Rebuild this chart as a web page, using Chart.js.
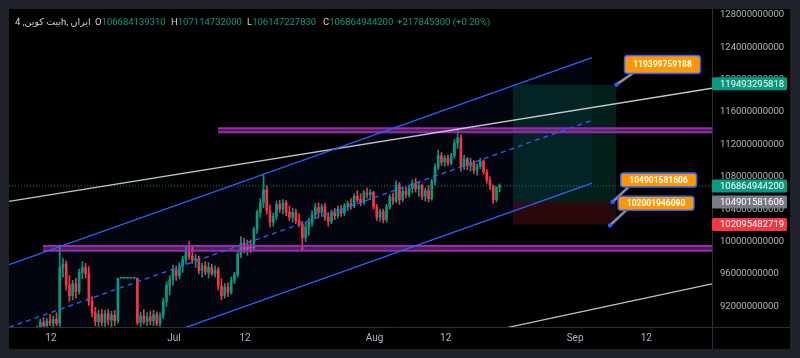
<!DOCTYPE html>
<html><head><meta charset="utf-8">
<script src="https://cdn.jsdelivr.net/npm/chart.js@4.4.1/dist/chart.umd.min.js"></script>
<style>
html,body{margin:0;padding:0;background:#1f222b;width:800px;height:358px;overflow:hidden}
#wrap{position:absolute;left:9px;top:9px;width:781px;height:340px;background:#000}
canvas{position:absolute;left:0;top:0}
.h{position:absolute;top:6px;font:9.5px Roboto,"DejaVu Sans",sans-serif;color:#d1d4dc;white-space:nowrap;line-height:14px}
.h .v{color:#089981}
</style></head><body>
<div id="wrap"><canvas id="c" width="781" height="340"></canvas>
<span class="h" style="left:6px" dir="ltr"><span style="unicode-bidi:isolate" dir="ltr">بیت کوین, 4h, ایران</span></span>
<span class="h" id="hO" style="left:86px"></span>
<span class="h" id="hH" style="left:162px"></span>
<span class="h" id="hL" style="left:238px"></span>
<span class="h" id="hC" style="left:314px"></span>
<span class="h" id="hD" style="left:388px"></span>
</div>
<script>
// ---------------- data (prices in billions) ----------------
const B = 1e9;
const candleStart = 8.85;   // day index (0 = Jun 1)
const candleStep = 0.5;     // 12h candles
const candleOpen = [89.0,89.3,90.0,89.6,90.2,89.9,90.4,89.9,96.8,97.2,94.6,93.3,94.8,93.8,96.2,96.8,96.0,92.6,91.2,90.1,91.0,90.0,91.1,90.3,90.9,90.2,95.47,95.47,95.47,95.47,95.47,95.47,90.0,90.8,90.1,90.7,90.2,91.0,89.9,90.8,92.6,94.6,95.3,96.5,95.8,97.0,97.8,98.9,98.2,97.7,97.9,96.4,97.0,96.2,96.8,96.0,96.5,94.5,93.3,94.4,93.7,95.2,95.9,98.4,99.8,99.0,99.6,99.2,101.5,103.6,104.8,106.4,103.8,102.4,103.1,104.6,104.0,104.8,103.6,103.0,103.6,102.6,102.1,100.5,101.8,102.4,103.3,104.2,103.6,104.3,103.0,102.5,103.5,103.2,104.0,103.5,104.4,104.7,104.4,105.6,105.2,104.8,106.0,105.8,106.1,104.3,103.0,103.7,102.7,104.3,105.5,105.0,107.0,105.2,106.2,105.8,106.6,107.2,106.5,106.9,105.6,106.3,105.3,107.4,109.2,110.6,109.8,110.3,109.7,110.6,112.2,112.8,109.3,110.2,109.4,109.8,108.8,109.3,109.9,108.6,107.6,106.9,105.2,106.684];
const candleHigh = [89.6,90.4,90.6,90.5,91.0,90.8,91.2,99.6,97.9,97.6,95.8,95.2,95.5,96.6,97.5,97.3,96.9,93.2,91.9,91.5,91.6,91.5,91.6,91.4,91.5,95.47,95.47,95.47,95.47,95.47,95.47,95.47,91.3,91.6,91.2,91.4,91.5,91.3,91.2,93.0,95.0,95.8,97.1,97.0,97.4,98.2,99.4,100.0,99.4,98.4,98.2,97.3,97.5,97.4,97.2,97.0,96.8,95.4,94.8,94.9,95.6,96.2,98.8,100.6,100.4,100.2,100.2,101.8,103.9,105.3,108.2,106.9,104.5,103.5,105.0,105.1,105.2,105.1,104.4,104.1,104.0,103.4,102.5,102.4,102.9,103.8,104.7,104.8,104.6,104.7,103.6,103.9,104.1,104.4,104.5,104.7,105.0,105.3,105.9,106.3,105.9,106.3,106.6,106.4,106.2,104.6,104.0,104.0,104.6,105.8,106.0,107.5,107.3,106.6,106.8,106.9,107.6,107.8,107.3,107.1,106.6,106.9,107.7,109.6,111.3,111.0,110.6,110.7,110.9,112.6,113.9,113.2,110.7,110.4,110.3,110.0,109.6,110.3,110.1,108.9,108.0,107.0,106.8,107.115];
const candleLow = [88.4,88.9,89.2,88.9,89.6,89.2,89.6,89.5,95.6,94.0,92.6,92.8,93.0,93.5,95.4,95.5,92.1,90.7,89.6,89.5,89.6,89.5,89.7,89.5,89.6,89.9,95.47,95.47,95.47,95.47,95.47,89.7,89.5,89.8,89.6,89.7,89.6,89.6,89.5,90.5,92.0,93.4,94.6,95.2,95.4,96.2,97.2,97.8,97.3,96.8,96.0,95.6,95.9,95.5,95.8,95.6,94.0,92.8,93.0,93.2,93.5,94.8,95.6,98.0,98.6,98.3,98.6,99.0,101.0,103.0,104.2,103.4,101.8,101.9,102.7,103.6,103.4,103.2,102.6,102.4,102.2,101.8,98.9,100.0,100.8,101.9,102.9,103.0,103.1,102.6,101.9,102.2,102.7,102.9,103.1,103.2,103.8,104.0,104.2,104.9,104.4,104.6,105.4,105.2,104.0,102.6,102.5,102.3,102.4,104.0,104.6,104.8,104.6,104.9,105.4,105.5,106.0,106.1,105.6,105.2,105.0,104.9,105.1,107.0,108.9,109.4,109.3,109.4,109.5,110.3,111.5,108.7,108.9,108.9,108.7,108.4,108.2,109.0,108.3,107.2,106.4,104.7,104.9,106.147];
const candleClose = [89.3,90.0,89.6,90.2,89.9,90.4,89.9,96.8,97.2,94.6,93.3,94.8,93.8,96.2,96.8,96.0,92.6,91.2,90.1,91.0,90.0,91.1,90.3,90.9,90.2,95.47,95.47,95.47,95.47,95.47,95.47,90.0,90.8,90.1,90.7,90.2,91.0,89.9,90.8,92.6,94.6,95.3,96.5,95.8,97.0,97.8,98.9,98.2,97.7,97.9,96.4,97.0,96.2,96.8,96.0,96.5,94.5,93.3,94.4,93.7,95.2,95.9,98.4,99.8,99.0,99.6,99.2,101.5,103.6,104.8,106.4,103.8,102.4,103.1,104.6,104.0,104.8,103.6,103.0,103.6,102.6,102.1,100.5,101.8,102.4,103.3,104.2,103.6,104.3,103.0,102.5,103.5,103.2,104.0,103.5,104.4,104.7,104.4,105.6,105.2,104.8,106.0,105.8,106.1,104.3,103.0,103.7,102.7,104.3,105.5,105.0,107.0,105.2,106.2,105.8,106.6,107.2,106.5,106.9,105.6,106.3,105.3,107.4,109.2,110.6,109.8,110.3,109.7,110.6,112.2,112.8,109.3,110.2,109.4,109.8,108.8,109.3,109.9,108.6,107.6,106.9,105.2,106.684,106.865];

// axes
const xMin = 4.51, xMax = 113.16;           // days (0 = Jun 1)
const yMin = 89.44 * B, yMax = 128.74 * B;
const xTickDays = [11, 30, 41, 61, 72, 92, 103];
const xTickLabels = ['12', 'Jul', '12', 'Aug', '12', 'Sep', '12'];
const yTicks = [92e9, 96e9, 100e9, 104e9, 108e9, 112e9, 116e9, 120e9, 124e9, 128e9];

// drawings: [day0, value0, day1, value1]
const channelUpper = [4.51, 97.15, 94.62, 122.74];
const channelMid   = [4.51, 89.39, 94.62, 114.98];
const channelLower = [4.51, 81.63, 94.62, 107.22];
const trendWhite1  = [4.51, 104.96, 113.16, 118.95];
const trendWhite2  = [81.5, 89.37, 113.16, 94.76];
const zoneUpper = [36.81, 114.0, 113.16, 113.5];   // day0, top, day1, bottom
const zoneLower = [9.76, 99.45, 113.16, 98.87];
const positionDays = [82.4, 98.33];
const positionTarget = 119.3997, positionEntry = 104.9016, positionStop = 102.0955;
const lastPrice = 106.865;

// labels
const header = {O:'106684139310', H:'107114732000', L:'106147227830', C:'106864944200', D:'+217845300 (+0.20%)'};
const calloutDays = [98.4, 97.8, 97.4];
const calloutValues = [119399759188, 104901581606, 102001946090];
const tagValues = [119493295818, 106864944200, 104901581606, 102095482719];

// ---------------- header ----------------
for (const k of ['O','H','L','C']) document.getElementById('h'+k).innerHTML = k + '<span class="v">' + header[k] + '</span>';
document.getElementById('hD').innerHTML = '<span class="v">' + header.D + '</span>';

// ---------------- datasets ----------------
const UP = '#089981', DN = '#f23645';
const wick = [], body = [], cols = [];
for (let i = 0; i < candleOpen.length; i++) {
  const x = candleStart + i * candleStep, o = candleOpen[i], c = candleClose[i];
  wick.push({x, y: [candleLow[i] * B, candleHigh[i] * B]});
  body.push({x, y: [Math.min(o, c) * B, Math.max(o, c) * B]});
  cols.push(c >= o ? UP : DN);
}
const seg = a => [{x: a[0], y: a[1] * B}, {x: a[2], y: a[3] * B}];
const hseg = (d0, d1, v) => [{x: d0, y: v * B}, {x: d1, y: v * B}];
const L = (data, o) => Object.assign({type: 'line', data, pointRadius: 0, borderWidth: 1, fill: false, tension: 0}, o);

const ds = [];
// 0,1 channel background fill
ds.push(L(seg(channelUpper), {borderWidth: 0, order: 30}));
ds.push(L(seg(channelLower), {borderWidth: 0, order: 30, fill: {target: 0}, backgroundColor: 'rgba(41,98,255,0.055)'}));
// 2,3 profit box ; 4 stop box
ds.push(L(hseg(positionDays[0], positionDays[1], positionTarget), {borderWidth: 0, order: 25}));
ds.push(L(hseg(positionDays[0], positionDays[1], positionEntry), {borderWidth: 0, order: 25, fill: {target: 2}, backgroundColor: 'rgba(8,153,129,0.2)'}));
ds.push(L(hseg(positionDays[0], positionDays[1], positionStop), {borderWidth: 0, order: 25, fill: {target: 3}, backgroundColor: 'rgba(242,54,69,0.17)'}));
// 5,6 candles
ds.push({type: 'bar', data: wick, backgroundColor: cols, barThickness: 1, grouped: false, order: 10});
ds.push({type: 'bar', data: body, backgroundColor: cols, barThickness: 2, grouped: false, minBarLength: 1, order: 9});
// 7,8 upper zone ; 9,10 lower zone
ds.push(L(hseg(zoneUpper[0], zoneUpper[2], zoneUpper[1]), {borderColor: '#9c27b0', borderWidth: 2, order: 4}));
ds.push(L(hseg(zoneUpper[0], zoneUpper[2], zoneUpper[3]), {borderColor: '#9c27b0', borderWidth: 2, order: 4, fill: {target: 7}, backgroundColor: 'rgba(186,104,200,0.35)'}));
ds.push(L(hseg(zoneLower[0], zoneLower[2], zoneLower[1]), {borderColor: '#9c27b0', borderWidth: 2, order: 4}));
ds.push(L(hseg(zoneLower[0], zoneLower[2], zoneLower[3]), {borderColor: '#9c27b0', borderWidth: 2, order: 4, fill: {target: 9}, backgroundColor: 'rgba(186,104,200,0.35)'}));
// lines
ds.push(L(hseg(xMin, xMax, lastPrice), {borderColor: 'rgba(8,153,129,0.9)', borderDash: [1, 2], order: 3}));
ds.push(L(seg(trendWhite1), {borderColor: 'rgba(215,218,225,0.9)', borderWidth: 1.3, order: 2}));
ds.push(L(seg(trendWhite2), {borderColor: 'rgba(215,218,225,0.9)', borderWidth: 1.3, order: 2}));
ds.push(L(seg(channelUpper), {borderColor: '#2962ff', borderWidth: 1.3, order: 1}));
ds.push(L(seg(channelMid), {borderColor: '#2962ff', borderWidth: 1.3, borderDash: [5, 4], order: 1}));
ds.push(L(seg(channelLower), {borderColor: '#2962ff', borderWidth: 1.3, order: 1}));

// ---------------- overlay plugin (axis tags, callouts, separators) ----------------
const overlay = {
  id: 'overlay',
  afterDraw(chart) {
    const ctx = chart.ctx, xs = chart.scales.x, ys = chart.scales.y, a = chart.chartArea;
    ctx.save();
    ctx.strokeStyle = '#2a2e39'; ctx.lineWidth = 1;
    ctx.beginPath();
    ctx.moveTo(0, Math.round(a.bottom) + 0.5); ctx.lineTo(chart.width, Math.round(a.bottom) + 0.5);
    ctx.moveTo(Math.round(a.right) + 0.5, 0); ctx.lineTo(Math.round(a.right) + 0.5, chart.height);
    ctx.stroke();
    // callouts
    const bw = 76;
    calloutValues.forEach((v, k) => {
      const ax = xs.getPixelForValue(calloutDays[k]), ay = ys.getPixelForValue(v);
      const bh = k === 0 ? 18 : 14, bb = ay - (k === 0 ? 11 : 15), by = bb - bh, bx = ax + 8;
      ctx.lineCap = 'round';
      ctx.strokeStyle = '#2962ff'; ctx.lineWidth = 3;
      ctx.beginPath(); ctx.moveTo(ax, ay); ctx.lineTo(bx + 8, bb); ctx.stroke();
      ctx.strokeStyle = '#ff9800'; ctx.lineWidth = 1.2;
      ctx.beginPath(); ctx.moveTo(ax, ay); ctx.lineTo(bx + 8, bb); ctx.stroke();
      ctx.fillStyle = '#ff9800'; ctx.strokeStyle = '#2962ff'; ctx.lineWidth = 1.5;
      ctx.beginPath(); ctx.roundRect(bx, by, bw, bh, 3); ctx.fill(); ctx.stroke();
      ctx.fillStyle = '#ffffff'; ctx.font = 'bold 8.5px Roboto'; ctx.textAlign = 'center'; ctx.textBaseline = 'middle';
      ctx.fillText(String(v), bx + bw / 2, by + bh / 2 + 0.5);
      ctx.fillStyle = '#2962ff'; ctx.beginPath(); ctx.arc(ax, ay, 2.2, 0, Math.PI * 2); ctx.fill();
    });
    // price tags on the axis
    const tagCols = [UP, UP, '#787b86', DN];
    tagValues.forEach((v, k) => {
      const y = ys.getPixelForValue(v);
      ctx.fillStyle = tagCols[k];
      ctx.beginPath(); ctx.roundRect(a.right, y - 6.5, 75, 13, 1.5); ctx.fill();
      ctx.fillStyle = '#ffffff'; ctx.font = '9.5px Roboto'; ctx.textAlign = 'left'; ctx.textBaseline = 'middle';
      ctx.fillText(String(v), a.right + 8, y + 0.5);
    });
    ctx.restore();
  }
};

new Chart(document.getElementById('c'), {
  type: 'bar',
  data: {datasets: ds},
  options: {
    responsive: false, animation: false, events: [],
    layout: {padding: 0},
    plugins: {legend: {display: false}, tooltip: {enabled: false}},
    scales: {
      x: {
        type: 'linear', min: xMin, max: xMax, offset: false,
        grid: {display: false, drawTicks: false}, border: {display: false},
        ticks: {color: '#b2b5be', font: {family: 'Roboto', size: 10}, padding: 5, autoSkip: false, maxRotation: 0,
          callback: (v, i) => xTickLabels[i]},
        afterBuildTicks: s => { s.ticks = xTickDays.map(v => ({value: v})); },
        afterFit: s => { s.height = 22; s.paddingLeft = 0; s.paddingRight = 0; }
      },
      y: {
        type: 'linear', position: 'right', min: yMin, max: yMax, beginAtZero: false,
        grid: {display: false, drawTicks: false}, border: {display: false},
        ticks: {color: '#b2b5be', font: {family: 'Roboto', size: 9.5}, padding: 8, callback: v => String(v)},
        afterBuildTicks: s => { s.ticks = yTicks.map(v => ({value: v})); },
        afterFit: s => { s.width = 78; s.paddingTop = 0; s.paddingBottom = 0; }
      }
    }
  },
  plugins: [overlay]
});
</script>
</body></html>
